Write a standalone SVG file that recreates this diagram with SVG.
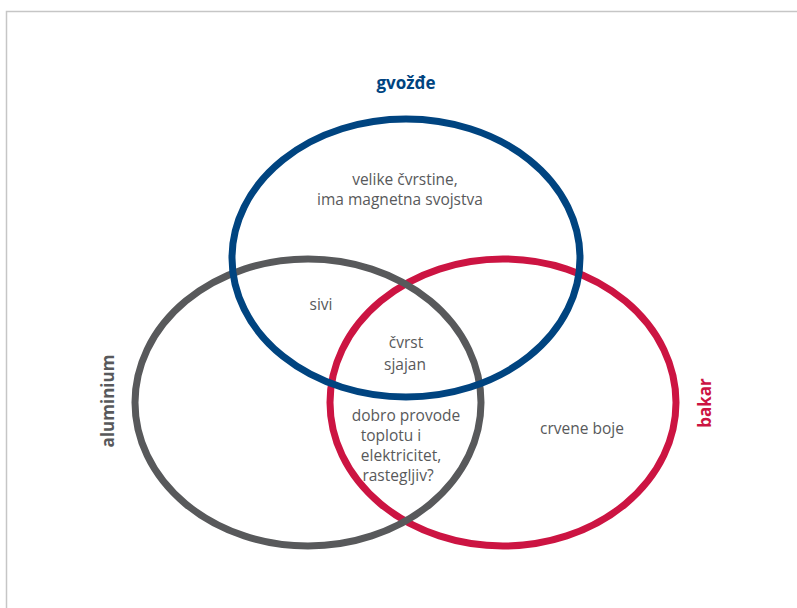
<svg xmlns="http://www.w3.org/2000/svg" width="797" height="608" viewBox="0 0 797 608">
<style>
.ring{fill:none;stroke-width:7}
.t{font-family:"Open Sans","DejaVu Sans",sans-serif;font-size:15.5px;fill:#58595b;text-anchor:middle}
.lbl{font-family:"Open Sans","DejaVu Sans",sans-serif;font-size:17px;font-weight:bold;text-anchor:middle}
</style>
<rect x="0" y="0" width="797" height="608" fill="#ffffff"/>
<rect x="6.5" y="11.5" width="820" height="620" fill="none" stroke="#c6c6c6" stroke-width="1.5"/>
<g id="connectors"></g>
<g id="bakar">
<ellipse class="ring" cx="503" cy="402.5" rx="173" ry="143.5" stroke="#cc1442"/>
<text class="lbl" fill="#cc1442" transform="translate(711,403) rotate(-90)">bakar</text>
<text class="t" x="582" y="434">crvene boje</text>
</g>
<g id="aluminium">
<ellipse class="ring" cx="308" cy="402.5" rx="173" ry="143.5" stroke="#58595b"/>
<text class="lbl" fill="#58595b" transform="translate(114,401) rotate(-90)">aluminium</text>
</g>
<g id="gvozde">
<ellipse class="ring" cx="406" cy="258" rx="174" ry="139" stroke="#004480"/>
<text class="lbl" fill="#004480" x="406" y="89">gvožđe</text>
<text class="t" x="405" y="185">velike čvrstine,</text>
<text class="t" x="400" y="205">ima magnetna svojstva</text>
</g>
<g id="overlaps">
<text class="t" x="321" y="310">sivi</text>
<text class="t" x="406" y="348">čvrst</text>
<text class="t" x="405" y="370">sjajan</text>
<text class="t" x="406" y="421">dobro provode</text>
<text class="t" x="391" y="441">toplotu i</text>
<text class="t" x="401" y="461">elektricitet,</text>
<text class="t" x="398" y="481">rastegljiv?</text>
</g>
</svg>
